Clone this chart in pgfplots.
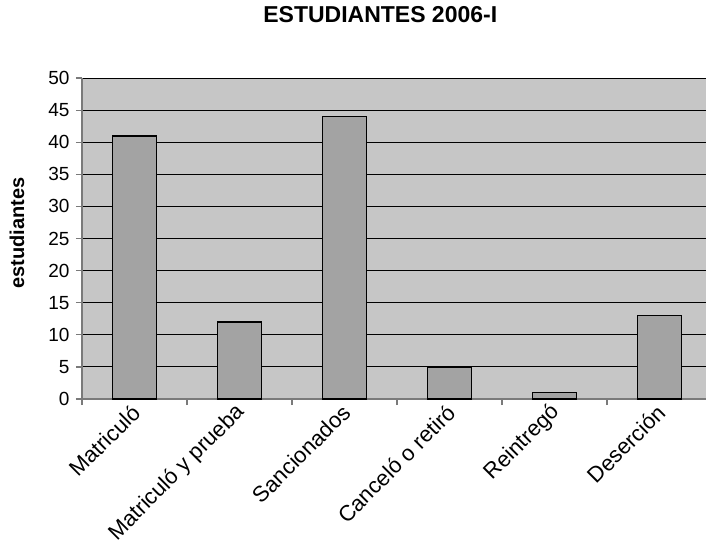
\documentclass[border=0pt]{standalone}
\usepackage{fontspec}
\setmainfont{Liberation Sans}
\usepackage{pgfplots}
\pgfplotsset{compat=1.18}

\definecolor{plotbg}{HTML}{C6C6C6}
\definecolor{barfill}{HTML}{A3A3A3}
\definecolor{axgray}{HTML}{7A7A7A}

\begin{document}
\begin{tikzpicture}
\begin{axis}[
    scale only axis,
    width=624pt, height=321pt,
    ybar, bar width=44pt,
    xmin=-0.5, xmax=5.443,
    ymin=0, ymax=50,
    axis x line*=bottom, axis y line*=left,
    axis line style={axgray, line width=1.4pt},
    axis background/.style={fill=plotbg},
    ytick={0,5,...,50},
    ymajorgrids,
    grid style={black, line width=0.9pt},
    y tick style={axgray, line width=1.2pt},
    tick align=outside,
    major tick length=6pt,
    xtick={0,1,2,3,4,5},
    xticklabels={Matriculó, Matriculó y prueba, Sancionados, Canceló o retiró, Reintregó, Deserción},
    x tick style={draw=none},
    extra x ticks={-0.5,0.5,1.5,2.5,3.5,4.5},
    extra x tick labels={},
    extra x tick style={grid=none, x tick style={draw=axgray, line width=1.2pt}},
    xticklabel style={rotate=45, anchor=east, font=\fontsize{22}{24}\selectfont, yshift=-4pt, xshift=2pt},
    yticklabel style={font=\fontsize{19}{21}\selectfont, xshift=-3pt},
    /pgf/number format/assume math mode=true,
    ylabel={estudiantes},
    ylabel style={at={(axis description cs:-0.104,0.517)}, anchor=center, font=\bfseries\fontsize{20}{22}\selectfont},
    title={ESTUDIANTES 2006-I},
    title style={at={(axis description cs:0.478,1)}, anchor=center, yshift=57pt, font=\bfseries\fontsize{23}{25}\selectfont},
    clip=false,
]
\addplot[fill=barfill, draw=black, line width=1.6pt] coordinates {
    (0,41) (1,12) (2,44) (3,5) (4,1) (5,13)
};
\end{axis}
\pgfresetboundingbox
\path ([xshift=-82pt,yshift=-156pt]current axis.south west) rectangle ([yshift=78pt]current axis.north east);
\end{tikzpicture}
\end{document}
